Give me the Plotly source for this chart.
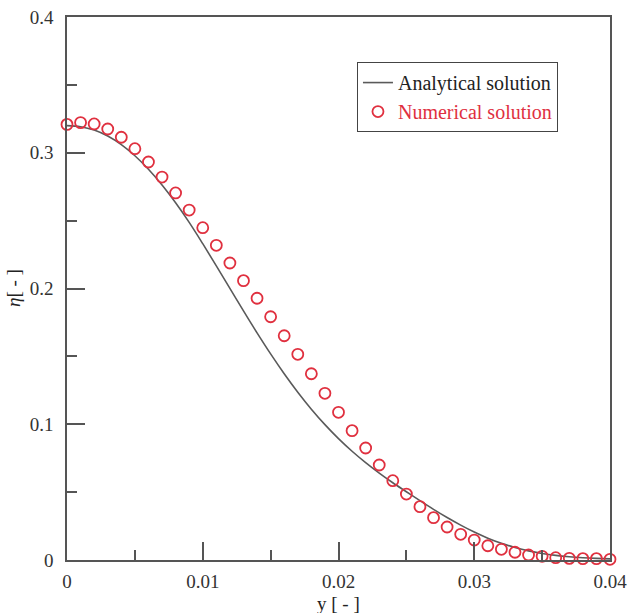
import plotly.graph_objects as go

# Numerical solution (circles), x step 0.001
num_x = [i * 0.001 for i in range(41)]
num_y = [0.3209, 0.3222, 0.3212, 0.3175, 0.3114, 0.3030, 0.2932, 0.2821, 0.2704, 0.2578,
         0.2448, 0.2318, 0.2188, 0.2058, 0.1928, 0.1792, 0.1652, 0.1515, 0.1372, 0.1228,
         0.1088, 0.0953, 0.0825, 0.0700, 0.0584, 0.0486, 0.0393, 0.0312, 0.0243, 0.0189,
         0.0147, 0.0105, 0.0079, 0.0057, 0.0037, 0.0027, 0.0017, 0.0012, 0.0010, 0.0010,
         0.0005]

# Analytical solution (line)
ana_x = [i * 0.001 for i in range(41)]
ana_y = [0.3200, 0.3192, 0.3167, 0.3123, 0.3060, 0.2978, 0.2878, 0.2762, 0.2631, 0.2487,
         0.2330, 0.2167, 0.2001, 0.1835, 0.1673, 0.1518, 0.1372, 0.1236, 0.1111, 0.0997,
         0.0894, 0.0801, 0.0717, 0.0640, 0.0569, 0.0503, 0.0437, 0.0373, 0.0313, 0.0257,
         0.0206, 0.0161, 0.0123, 0.0092, 0.0067, 0.0048, 0.0034, 0.0024, 0.0017, 0.0012,
         0.0008]

x_ticks = [0, 0.01, 0.02, 0.03, 0.04]
x_ticktext = ["0", "0.01", "0.02", "0.03", "0.04"]
y_ticks = [0, 0.1, 0.2, 0.3, 0.4]
y_ticktext = ["0", "0.1", "0.2", "0.3", "0.4"]

RED = "#e0303f"
AXC = "#555555"
FONT = "Liberation Serif"

fig = go.Figure()
fig.add_trace(go.Scatter(
    x=ana_x, y=ana_y, mode="lines", name="Analytical solution",
    line=dict(color="#5a5a5a", width=1.6, shape="spline", smoothing=1.0),
    cliponaxis=False,
))
fig.add_trace(go.Scatter(
    x=num_x, y=num_y, mode="markers",
    name="<span style='color:%s'>Numerical solution</span>" % RED,
    marker=dict(symbol="circle-open", size=11, color=RED, line=dict(width=1.8, color=RED)),
    cliponaxis=False,
))

axis_common = dict(
    showgrid=False, zeroline=False, showline=True, linecolor=AXC, linewidth=1.5,
    mirror=True, ticks="inside", ticklen=18, tickwidth=1.5, tickcolor=AXC,
    tickfont=dict(family=FONT, size=19, color="#333333"), automargin=False,
)

fig.update_xaxes(range=[0, 0.04], tickvals=x_ticks, ticktext=x_ticktext,
                 minor=dict(ticks="inside", ticklen=10, tickwidth=1.5, tickcolor=AXC, dtick=0.005, tick0=0, showgrid=False),
                 ticklabelstandoff=3, **axis_common)
fig.update_yaxes(range=[0, 0.4], tickvals=y_ticks, ticktext=y_ticktext,
                 minor=dict(ticks="inside", ticklen=10, tickwidth=1.5, tickcolor=AXC, dtick=0.05, tick0=0, showgrid=False),
                 ticklabelstandoff=8, **axis_common)

fig.update_layout(
    width=628, height=613,
    margin=dict(l=67, r=18, t=17, b=53, autoexpand=False),
    plot_bgcolor="white", paper_bgcolor="white",
    font=dict(family=FONT, size=19, color="#222222"),
    legend=dict(x=0.534, y=0.917, xanchor="left", yanchor="top",
                bordercolor="#444444", borderwidth=1, bgcolor="white",
                font=dict(family=FONT, size=20, color="#222222"),
                itemwidth=30, tracegroupgap=0),
    showlegend=True,
    annotations=[
        dict(text="<i>η</i>[ - ]", xref="paper", yref="paper",
             x=(14 - 67) / 543, y=(560 - 288) / 543, textangle=-90,
             showarrow=False, font=dict(family=FONT, size=19, color="#222222"),
             xanchor="center", yanchor="middle"),
        dict(text="y [ - ]", xref="paper", yref="paper",
             x=0.5, y=(560 - 603) / 543, showarrow=False,
             font=dict(family=FONT, size=19, color="#222222"),
             xanchor="center", yanchor="middle"),
    ],
)

# remove the default page margin so the figure fills the window exactly
fig.write_html("out.html", config={"displayModeBar": False},
               post_script="document.body.style.margin='0px';document.body.style.overflow='hidden';")
